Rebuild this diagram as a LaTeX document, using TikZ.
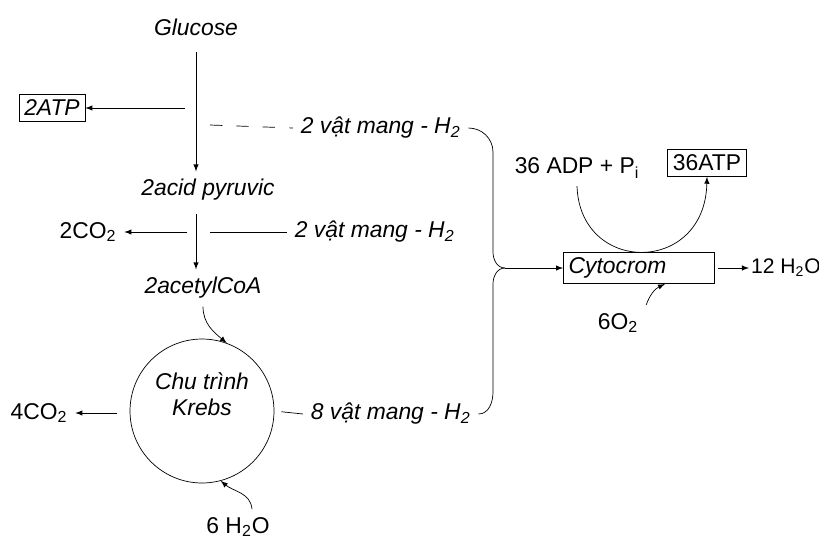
\documentclass[tikz,border=0pt]{standalone}
\usepackage{fontspec}
\setmainfont{Liberation Sans}
\begin{document}
\fontsize{13}{15}\selectfont
\begin{tikzpicture}[x=0.02cm,y=-0.02cm]
	% Styles
	\tikzstyle{fleche}=[->,>=latex,thin]
	\tikzstyle{trait}=[-,thin]
	\tikzstyle{boite}=[draw,thin,inner sep=3pt]
	\tikzstyle{texte}=[font=\itshape]
	\tikzstyle{chimie}=[]
	% Dimensions
	\def\Diametre{2.88cm}
	\def\Accolade{493}
	\useasboundingbox (0,0) rectangle (819,542);
	% Noeuds
	\node[texte] (glu) at (196,27) {Glucose};
	\node[boite,texte] (atpa) at (52,108) {2ATP};
	\node[texte] (pyr) at (208,190) {2acid pyruvic};
	\node[chimie] (coa) at (88,232) {2CO\textsubscript{2}};
	\node[texte] (acoa) at (203,288) {2acetylCoA};
	\node[draw,circle,thin,minimum size=\Diametre,inner sep=0pt,texte,align=center] (krebs) at (202,411) {Chu trình\\Krebs\\[4pt]};
	\node[chimie] (cob) at (39,413) {4CO\textsubscript{2}};
	\node[chimie] (eau) at (238,527) {6 H\textsubscript{2}O};
	%
	\node[texte,anchor=west] (vma) at (293,128) {2 vật mang - H\textsubscript{2}};
	\node[texte,anchor=west] (vmb) at (287,232) {2 vật mang - H\textsubscript{2}};
	\node[texte,anchor=west] (vmc) at (303,414) {8 vật mang - H\textsubscript{2}};
	%
	\node[boite,texte,text width=80pt,align=left,minimum height=16pt] (cyto) at (639,268) {Cytocrom};
	\node[chimie,anchor=west,inner xsep=1pt,font=\fontsize{12}{14}\selectfont] (eaub) at (749,268) {12 H\textsubscript{2}O};
	\node[chimie] (adp) at (577,168) {36 ADP + P\textsubscript{i}};
	\node[boite,chimie,inner xsep=3pt] (atpb) at (707,163) {36ATP};
	\node[chimie] (oxy) at (618,323) {6O\textsubscript{2}};
	%
	\coordinate (ga) at (185,108);
	\coordinate (gb) at (210,125);
	\coordinate (pa) at (187,232);
	\coordinate (pb) at (210,232);
	\coordinate (jonction) at (505,268);
	% Arcs
	\draw[fleche,shorten <=5pt] (glu.south) -- (glu.south |- pyr.north);
	\draw[fleche] (ga) -- (atpa);
	\draw[trait,dash pattern=on 7pt off 8pt] (gb) -- (vma.west);
	\draw[fleche,shorten <=3pt] (glu.south |- pyr.south) -- (glu.south |- acoa.north);
	\draw[fleche] (pa) -- (coa);
	\draw[trait] (pb) -- (vmb.west);
	\draw[fleche] (acoa.south) to[out=-90,in=140] (krebs.70);
	\draw[fleche,shorten <=7pt] (krebs.west |- cob) -- (cob.east);
	\draw[trait,shorten <=4pt] (krebs.east) -- (vmc.west);
	\draw[fleche] ([xshift=0.28cm]eau.north) to[out=95,in=-40] (krebs.-75);
	% Accolade
	\draw[trait] (vma.east) to[out=0,in=90] (\Accolade,152) -- (\Accolade,252) to[out=-90,in=180] (jonction);
	\draw[trait] (vmc.east) to[out=0,in=-90] (\Accolade,392) -- (\Accolade,284) to[out=90,in=180] (jonction);
	\draw[fleche] (jonction) -- (cyto.west);
	%
	\draw[fleche,shorten <=2pt] (cyto.east) -- (eaub.west);
	\draw[fleche] (adp.south) .. controls (580,275) and (705,275) .. (atpb.south);
	\draw[fleche] (oxy.north east) to[out=70,in=205] (cyto.south east -| 665,0);
\end{tikzpicture}
\end{document}
